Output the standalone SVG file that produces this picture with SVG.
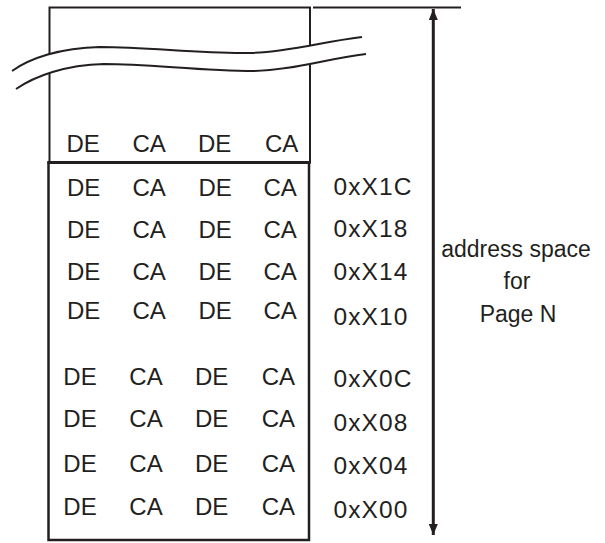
<svg xmlns="http://www.w3.org/2000/svg" width="605" height="543" viewBox="0 0 605 543">
  <style>
    .box { fill: none; stroke: #231f20; stroke-width: 2; }
    .box2 { fill: none; stroke: #231f20; stroke-width: 2.5; }
    .ln { fill: none; stroke: #231f20; stroke-width: 2; }
    .t { font-family: "Liberation Sans", Arial, sans-serif; font-size: 24px; fill: #231f20; }
    .a { font-family: "Liberation Sans", Arial, sans-serif; font-size: 24.5px; letter-spacing: 1.1px; fill: #231f20; }
    .lbl { font-family: "Liberation Sans", Arial, sans-serif; font-size: 23px; fill: #231f20; text-anchor: middle; }
  </style>
  <defs>
    <marker id="ah" viewBox="0 0 11 9" refX="11" refY="4.5" markerWidth="11" markerHeight="9" markerUnits="userSpaceOnUse" orient="auto">
      <path d="M0,0 L11,4.5 L0,9 Z" fill="#231f20"/>
    </marker>
  </defs>
  <rect width="605" height="543" fill="#ffffff"/>

  <g id="page-upper">
    <rect class="box" x="49.5" y="7.5" width="260.5" height="155"/>
    <text class="t" x="66.5" y="152">DE</text>
    <text class="t" x="132.5" y="152">CA</text>
    <text class="t" x="198" y="152">DE</text>
    <text class="t" x="265" y="152">CA</text>
  </g>

  <g id="break">
    <path d="M12,71 C30,58 60,48 100,47 C150,47 200,54 250,53 C290,52 320,42 362,37 L366,54 C325,59 294,70 254,71 C200,71 150,64 104,64 C65,65 35,76 16,89 Z" fill="#ffffff" stroke="none"/>
    <path class="ln" d="M12,71 C30,58 60,48 100,47 C150,47 200,54 250,53 C290,52 320,42 362,37"/>
    <path class="ln" d="M16,89 C35,76 65,65 104,64 C150,64 200,71 254,71 C294,70 325,59 366,54"/>
  </g>

  <g id="page-lower">
    <rect class="box2" x="48.5" y="162.5" width="260.5" height="377.5"/>
    <line x1="47.5" y1="162.5" x2="310.5" y2="162.5" stroke="#231f20" stroke-width="3"/>
  </g>

  <g id="row-1C">
    <text class="t" x="67" y="195.5">DE</text>
    <text class="t" x="132.5" y="195.5">CA</text>
    <text class="t" x="198.5" y="195.5">DE</text>
    <text class="t" x="263.5" y="195.5">CA</text>
    <text class="a" x="333.5" y="195">0xX1C</text>
  </g>
  <g id="row-18">
    <text class="t" x="67" y="238.3">DE</text>
    <text class="t" x="132.5" y="238.3">CA</text>
    <text class="t" x="198.5" y="238.3">DE</text>
    <text class="t" x="263.5" y="238.3">CA</text>
    <text class="a" x="333.5" y="237.3">0xX18</text>
  </g>
  <g id="row-14">
    <text class="t" x="67" y="280">DE</text>
    <text class="t" x="132.5" y="280">CA</text>
    <text class="t" x="198.5" y="280">DE</text>
    <text class="t" x="263.5" y="280">CA</text>
    <text class="a" x="333.5" y="280">0xX14</text>
  </g>
  <g id="row-10">
    <text class="t" x="67" y="319.3">DE</text>
    <text class="t" x="132.5" y="319.3">CA</text>
    <text class="t" x="198.5" y="319.3">DE</text>
    <text class="t" x="263.5" y="319.3">CA</text>
    <text class="a" x="333.5" y="325">0xX10</text>
  </g>
  <g id="row-0C">
    <text class="t" x="63.3" y="385">DE</text>
    <text class="t" x="129.3" y="385">CA</text>
    <text class="t" x="195" y="385">DE</text>
    <text class="t" x="261.7" y="385">CA</text>
    <text class="a" x="333.5" y="386.7">0xX0C</text>
  </g>
  <g id="row-08">
    <text class="t" x="63.3" y="427.3">DE</text>
    <text class="t" x="129.3" y="427.3">CA</text>
    <text class="t" x="195" y="427.3">DE</text>
    <text class="t" x="261.7" y="427.3">CA</text>
    <text class="a" x="333.5" y="430.7">0xX08</text>
  </g>
  <g id="row-04">
    <text class="t" x="63.3" y="471.7">DE</text>
    <text class="t" x="129.3" y="471.7">CA</text>
    <text class="t" x="195" y="471.7">DE</text>
    <text class="t" x="261.7" y="471.7">CA</text>
    <text class="a" x="333.5" y="474.3">0xX04</text>
  </g>
  <g id="row-00">
    <text class="t" x="63.3" y="515">DE</text>
    <text class="t" x="129.3" y="515">CA</text>
    <text class="t" x="195" y="515">DE</text>
    <text class="t" x="261.7" y="515">CA</text>
    <text class="a" x="333.5" y="517.7">0xX00</text>
  </g>

  <g id="page-label">
    <text class="lbl" x="516" y="256.7">address space</text>
    <text class="lbl" x="517" y="288.5">for</text>
    <text class="lbl" x="518" y="321.7">Page N</text>
  </g>

  <g id="connectors">
    <line class="ln" x1="313" y1="7.5" x2="461" y2="7.5"/>
    <line x1="433.3" y1="272" x2="433.3" y2="9" stroke="#231f20" stroke-width="3" marker-end="url(#ah)"/>
    <line x1="433.3" y1="272" x2="433.3" y2="535" stroke="#231f20" stroke-width="3" marker-end="url(#ah)"/>
  </g>
</svg>
